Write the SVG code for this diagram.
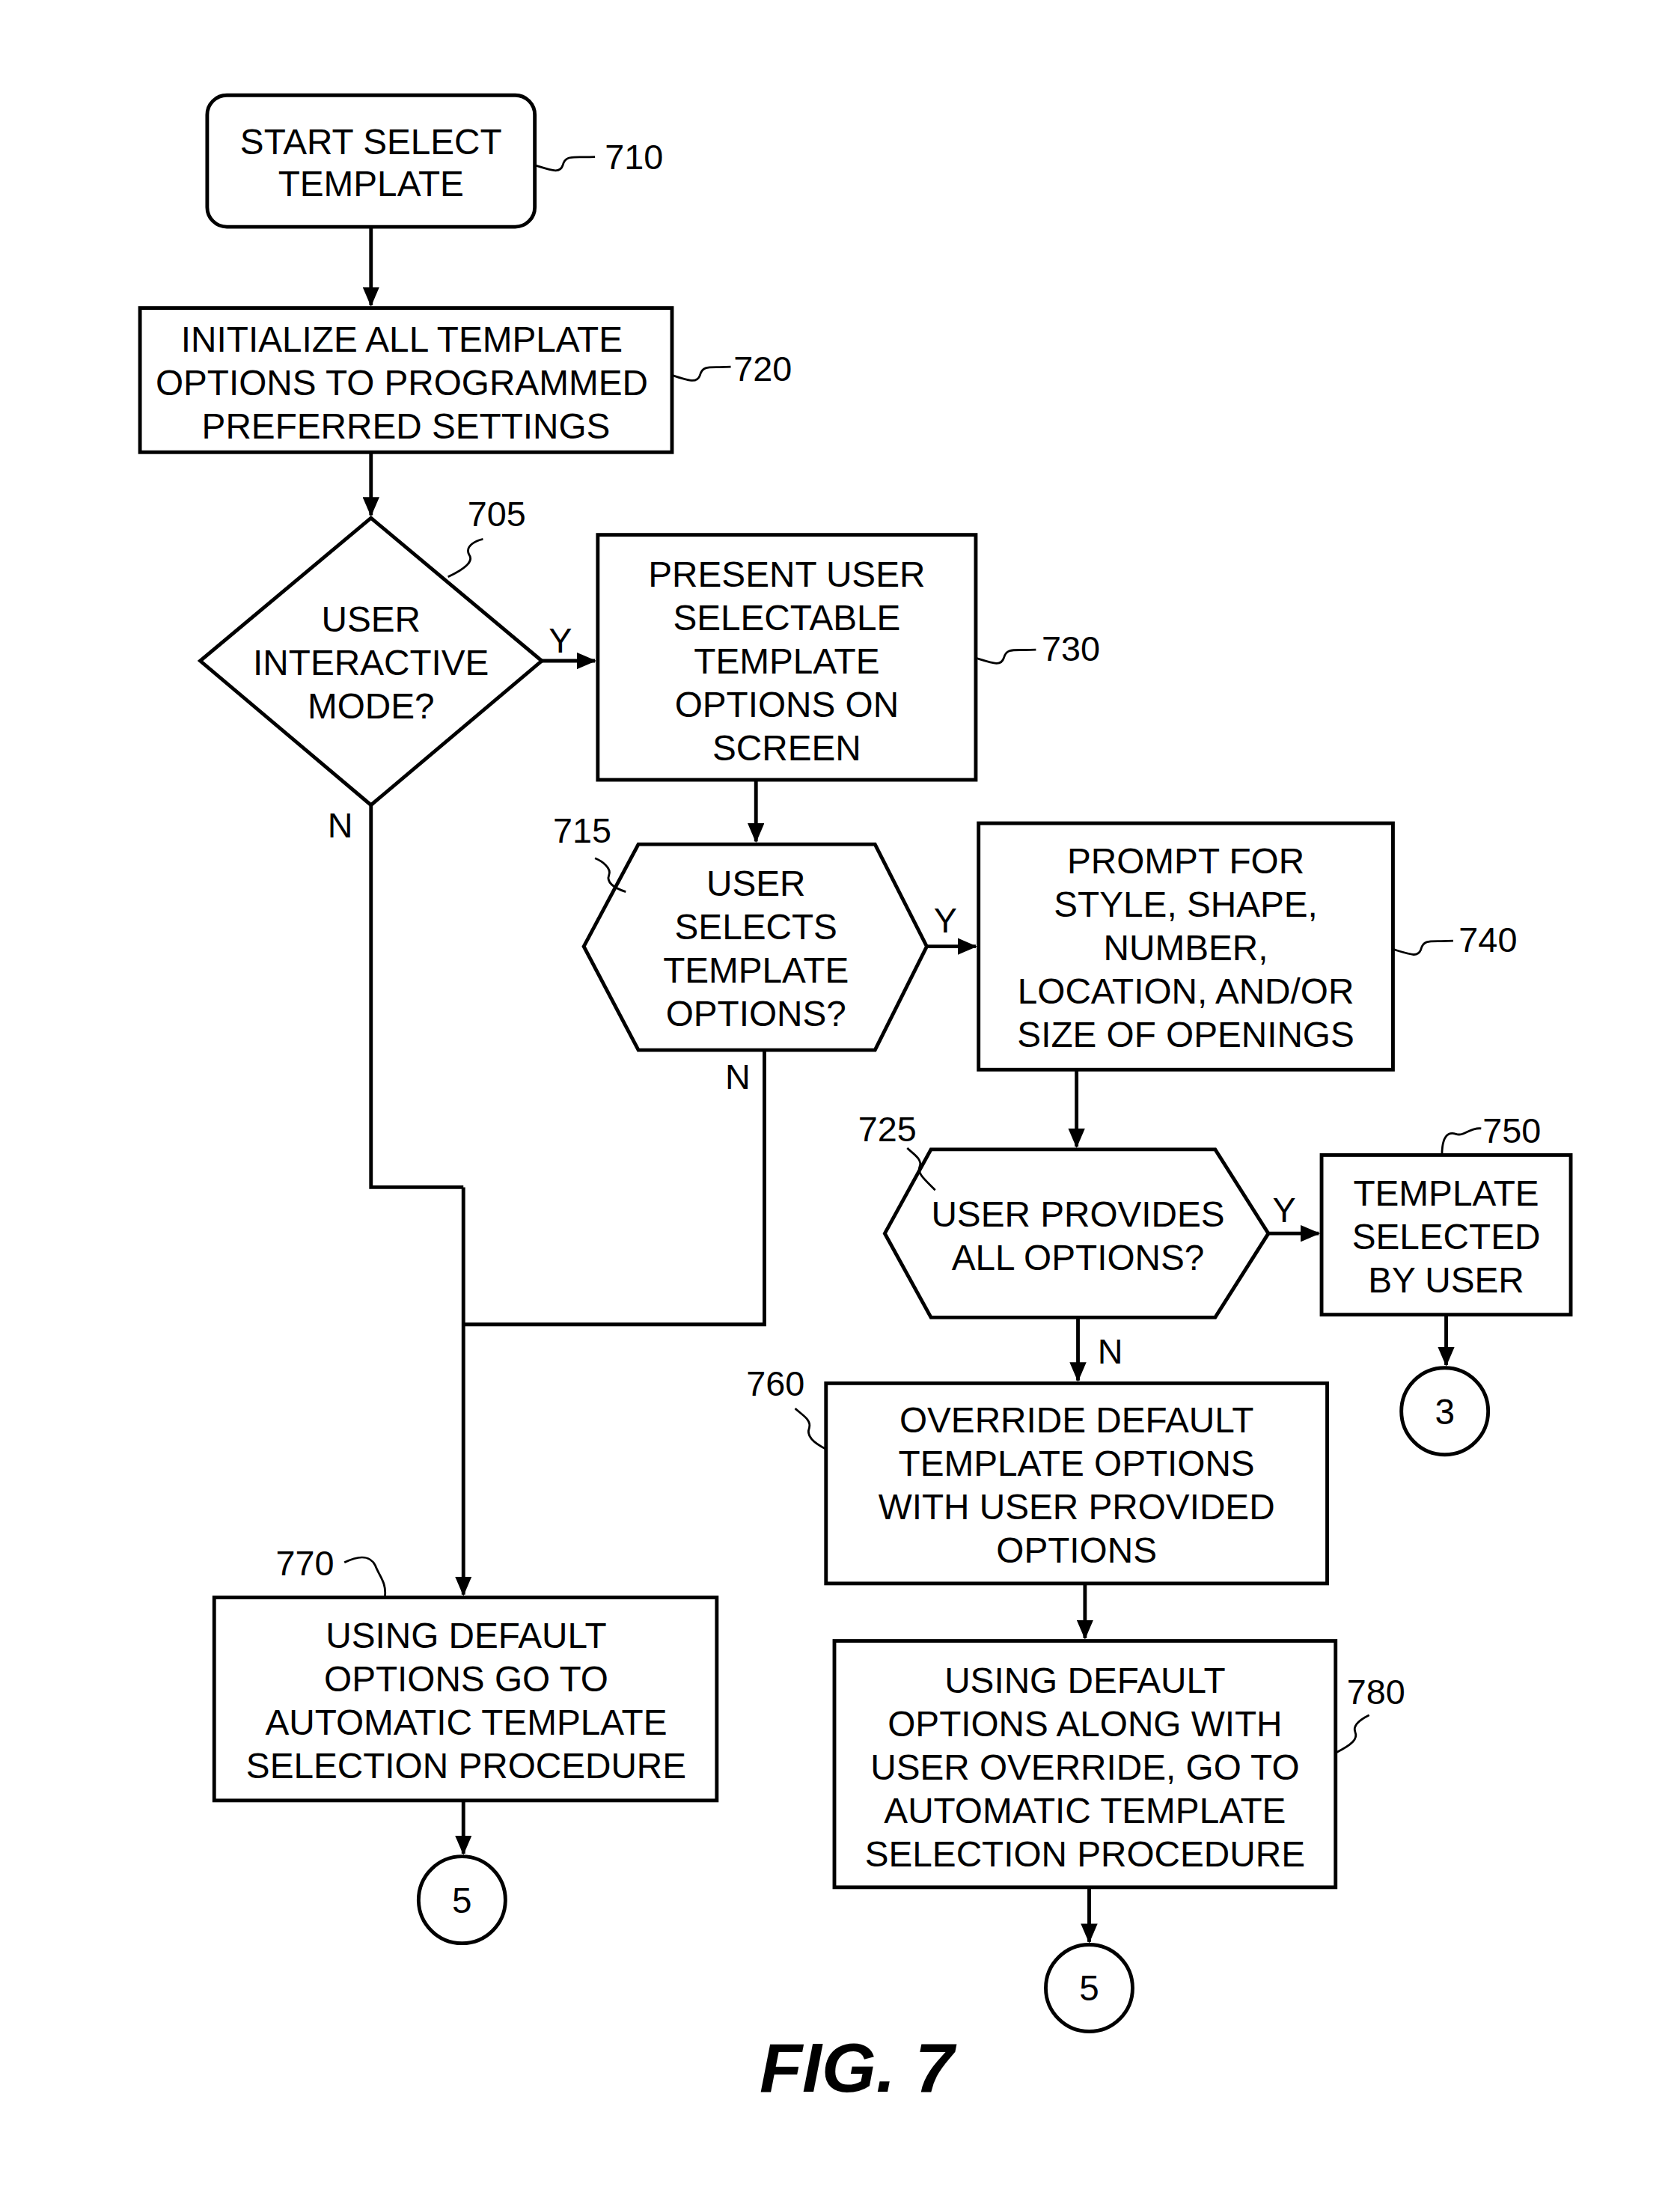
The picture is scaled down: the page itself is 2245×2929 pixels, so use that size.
<svg xmlns="http://www.w3.org/2000/svg" width="2245" height="2929" viewBox="0 0 2245 2929">
<defs>
<marker id="ah" markerWidth="14" markerHeight="12" refX="13" refY="6" orient="auto" markerUnits="userSpaceOnUse"><path d="M0,0 L14,6 L0,12 Z" fill="#000"/></marker>
<style>
.s{fill:#fff;stroke:#000;stroke-width:2.6}
.t{font-family:"Liberation Sans",Arial,sans-serif;font-size:25.5px;text-anchor:middle;fill:#000}
.l{font-family:"Liberation Sans",Arial,sans-serif;font-size:25px;fill:#000}
.c{fill:none;stroke:#000;stroke-width:2.6}
.q{fill:none;stroke:#000;stroke-width:1.5}
</style>
</defs>
<rect width="2245" height="2929" fill="#fff"/>
<g transform="scale(1.8708)">
<g id="connectors">
<path class="c" d="M265,162 V218" marker-end="url(#ah)"/>
<path class="c" d="M265,323 V368" marker-end="url(#ah)"/>
<path class="c" d="M387,472 H425" marker-end="url(#ah)"/>
<path class="c" d="M540,557 V601" marker-end="url(#ah)"/>
<path class="c" d="M662,676 H697" marker-end="url(#ah)"/>
<path class="c" d="M769,764 V819" marker-end="url(#ah)"/>
<path class="c" d="M906,881 H942" marker-end="url(#ah)"/>
<path class="c" d="M1033,939 V975" marker-end="url(#ah)"/>
<path class="c" d="M770,941 V986" marker-end="url(#ah)"/>
<path class="c" d="M775,1131 V1170" marker-end="url(#ah)"/>
<path class="c" d="M778,1348 V1387" marker-end="url(#ah)"/>
<path class="c" d="M265,575 V848 H331"/>
<path class="c" d="M546,750 V946 H331"/>
<path class="c" d="M331,848 V1139" marker-end="url(#ah)"/>
<path class="c" d="M331,1286 V1324" marker-end="url(#ah)"/>
<text class="l" x="392" y="466">Y</text>
<text class="l" x="234" y="598">N</text>
<text class="l" x="667" y="666">Y</text>
<text class="l" x="518" y="778">N</text>
<text class="l" x="909" y="873">Y</text>
<text class="l" x="784" y="974">N</text>
</g>
<g id="n710">
<rect class="s" x="148" y="68" width="234" height="94" rx="14"/>
<text class="t" x="265" y="110">START SELECT</text>
<text class="t" x="265" y="140">TEMPLATE</text>
<path class="q" d="M382,118 C395,122 400,124 402,118 C404,110 410,113 425,112"/>
<text class="l" x="432" y="121">710</text>
</g>
<g id="n720">
<rect class="s" x="100" y="220" width="380" height="103"/>
<text class="t" x="287" y="251">INITIALIZE ALL TEMPLATE</text>
<text class="t" x="287" y="282">OPTIONS TO PROGRAMMED</text>
<text class="t" x="290" y="313">PREFERRED SETTINGS</text>
<path class="q" d="M480,268 C492,272 498,274 500,268 C502,260 508,263 522,262"/>
<text class="l" x="524" y="272">720</text>
</g>
<g id="n705">
<path class="s" d="M265,370 L387,472 L265,575 L143,472 Z"/>
<text class="t" x="265" y="451">USER</text>
<text class="t" x="265" y="482">INTERACTIVE</text>
<text class="t" x="265" y="513">MODE?</text>
<path class="q" d="M320,412 C335,405 338,400 335,396 C332,390 340,386 345,385"/>
<text class="l" x="334" y="376">705</text>
</g>
<g id="n730">
<rect class="s" x="427" y="382" width="270" height="175"/>
<text class="t" x="562" y="419">PRESENT USER</text>
<text class="t" x="562" y="450">SELECTABLE</text>
<text class="t" x="562" y="481">TEMPLATE</text>
<text class="t" x="562" y="512">OPTIONS ON</text>
<text class="t" x="562" y="543">SCREEN</text>
<path class="q" d="M697,470 C710,474 715,476 717,470 C719,462 725,465 740,464"/>
<text class="l" x="744" y="472">730</text>
</g>
<g id="n715">
<path class="s" d="M456,603 L625,603 L662,676 L625,750 L456,750 L417,676 Z"/>
<text class="t" x="540" y="640">USER</text>
<text class="t" x="540" y="671">SELECTS</text>
<text class="t" x="540" y="702">TEMPLATE</text>
<text class="t" x="540" y="733">OPTIONS?</text>
<path class="q" d="M447,637 C438,634 433,630 435,625 C437,620 430,615 425,613"/>
<text class="l" x="395" y="602">715</text>
</g>
<g id="n740">
<rect class="s" x="699" y="588" width="296" height="176"/>
<text class="t" x="847" y="624">PROMPT FOR</text>
<text class="t" x="847" y="655">STYLE, SHAPE,</text>
<text class="t" x="847" y="686">NUMBER,</text>
<text class="t" x="847" y="717">LOCATION, AND/OR</text>
<text class="t" x="847" y="748">SIZE OF OPENINGS</text>
<path class="q" d="M995,678 C1008,682 1013,684 1015,678 C1017,670 1023,673 1038,672"/>
<text class="l" x="1042" y="680">740</text>
</g>
<g id="n725">
<path class="s" d="M665,821 L868,821 L906,881 L868,941 L665,941 L632,881 Z"/>
<text class="t" x="770" y="876">USER PROVIDES</text>
<text class="t" x="770" y="907">ALL OPTIONS?</text>
<path class="q" d="M668,850 C660,842 655,838 657,833 C659,828 652,824 648,820"/>
<text class="l" x="613" y="815">725</text>
</g>
<g id="n750">
<rect class="s" x="944" y="825" width="178" height="114"/>
<text class="t" x="1033" y="861">TEMPLATE</text>
<text class="t" x="1033" y="892">SELECTED</text>
<text class="t" x="1033" y="923">BY USER</text>
<path class="q" d="M1030,825 C1030,812 1034,808 1040,810 C1046,812 1050,805 1058,806"/>
<text class="l" x="1059" y="816">750</text>
</g>
<g id="c3">
<circle class="s" cx="1032" cy="1008" r="31"/>
<text class="t" x="1032" y="1017">3</text>
</g>
<g id="n760">
<rect class="s" x="590" y="988" width="358" height="143"/>
<text class="t" x="769" y="1023">OVERRIDE DEFAULT</text>
<text class="t" x="769" y="1054">TEMPLATE OPTIONS</text>
<text class="t" x="769" y="1085">WITH USER PROVIDED</text>
<text class="t" x="769" y="1116">OPTIONS</text>
<path class="q" d="M590,1035 C580,1030 576,1025 578,1020 C580,1014 572,1010 568,1006"/>
<text class="l" x="533" y="997">760</text>
</g>
<g id="n780">
<rect class="s" x="596" y="1172" width="358" height="176"/>
<text class="t" x="775" y="1209">USING DEFAULT</text>
<text class="t" x="775" y="1240">OPTIONS ALONG WITH</text>
<text class="t" x="775" y="1271">USER OVERRIDE, GO TO</text>
<text class="t" x="775" y="1302">AUTOMATIC TEMPLATE</text>
<text class="t" x="775" y="1333">SELECTION PROCEDURE</text>
<path class="q" d="M954,1252 C966,1246 970,1242 968,1237 C966,1232 972,1228 978,1225"/>
<text class="l" x="962" y="1217">780</text>
</g>
<g id="c5b">
<circle class="s" cx="778" cy="1420" r="31"/>
<text class="t" x="778" y="1429">5</text>
</g>
<g id="n770">
<rect class="s" x="153" y="1141" width="359" height="145"/>
<text class="t" x="333" y="1177">USING DEFAULT</text>
<text class="t" x="333" y="1208">OPTIONS GO TO</text>
<text class="t" x="333" y="1239">AUTOMATIC TEMPLATE</text>
<text class="t" x="333" y="1270">SELECTION PROCEDURE</text>
<path class="q" d="M246,1116 C258,1110 265,1112 268,1118 C271,1126 276,1130 275,1140"/>
<text class="l" x="197" y="1125">770</text>
</g>
<g id="c5a">
<circle class="s" cx="330" cy="1357" r="31"/>
<text class="t" x="330" y="1366">5</text>
</g>
<text x="612" y="1494" font-family="Liberation Sans,Arial,sans-serif" font-size="50" font-weight="bold" font-style="italic" text-anchor="middle">FIG. 7</text>
</g>
</svg>
